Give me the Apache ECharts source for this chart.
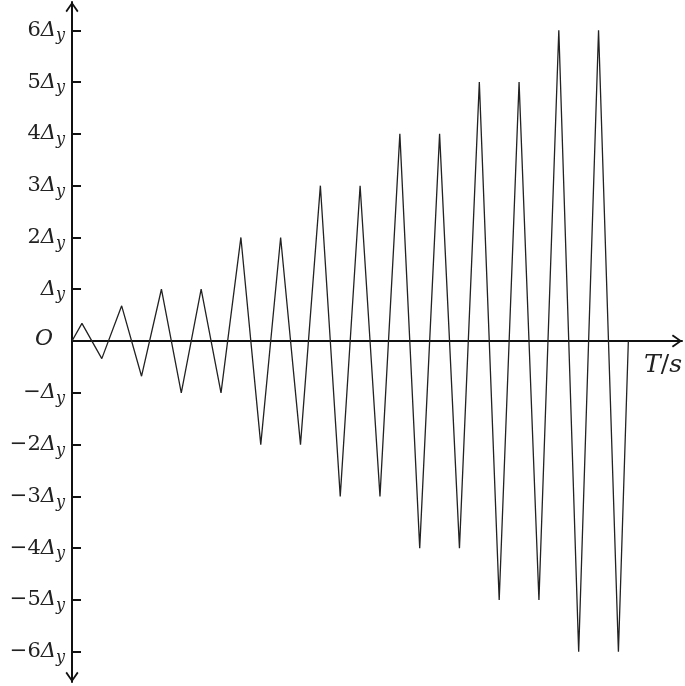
<!DOCTYPE html>
<html>
<head>
<meta charset="UTF-8">
<title>Loading protocol</title>
<script src="https://cdn.jsdelivr.net/npm/echarts@6/dist/echarts.min.js"></script>
<style>
  html, body { margin: 0; padding: 0; background: #fff; }
  #chart { width: 685px; height: 686px; }
</style>
</head>
<body>
<div id="chart"></div>
<script>
// time (quarter-cycle units) and displacement (multiples of Δy)
var times = [0, 1, 3, 5, 7, 9, 11, 13, 15, 17, 19, 21, 23, 25, 27, 29, 31,
             33, 35, 37, 39, 41, 43, 45, 47, 49, 51, 53, 55, 56];
var disp = [0, 0.34, -0.34, 0.68, -0.68, 1, -1, 1, -1, 2, -2, 2, -2, 3, -3, 3, -3,
            4, -4, 4, -4, 5, -5, 5, -5, 6, -6, 6, -6, 0];
var yTicks = [-6, -5, -4, -3, -2, -1, 1, 2, 3, 4, 5, 6];
var yLabels = [-6, -5, -4, -3, -2, -1, 0, 1, 2, 3, 4, 5, 6];

var serif = 'DejaVu Serif';
var arrow = 'path://M0,0 L6.5,9.2 L5.1,10.3 L0,3 L-5.1,10.3 L-6.5,9.2 Z';

var chart = echarts.init(document.getElementById('chart'));

chart.setOption({
  animation: false,
  backgroundColor: '#fff',
  grid: { left: 72, right: 3, top: 2, bottom: 4, containLabel: false },
  xAxis: {
    type: 'value',
    min: 0,
    max: 61.4,
    splitLine: { show: false },
    axisTick: { show: false },
    axisLabel: { show: false },
    axisLine: {
      onZero: true,
      lineStyle: { color: '#111', width: 2 },
      symbol: ['none', arrow],
      symbolSize: [13, 10.3],
      symbolOffset: [0, -5]
    },
    name: '{i|T}/{i|s}',
    nameLocation: 'end',
    nameGap: 0,
    nameTextStyle: {
      align: 'right',
      verticalAlign: 'top',
      padding: [12, 0, 0, 0],
      fontFamily: serif,
      fontSize: 25,
      color: '#222',
      rich: {
        i: { fontFamily: serif, fontStyle: 'italic', fontSize: 25, color: '#222' }
      }
    }
  },
  yAxis: {
    type: 'value',
    min: -6.585,
    max: 6.547,
    splitLine: { show: false },
    axisLine: {
      onZero: true,
      lineStyle: { color: '#111', width: 2 },
      symbol: [arrow, arrow],
      symbolSize: [13, 10.3],
      symbolOffset: [5, -5]
    },
    axisTick: {
      inside: true,
      length: 9,
      customValues: yTicks,
      lineStyle: { color: '#111', width: 2 }
    },
    axisLabel: {
      customValues: yLabels,
      margin: 7,
      fontFamily: serif,
      fontSize: 21,
      color: '#222',
      formatter: function (v) {
        if (v === 0) return '{o|O}';
        var n = Math.abs(v);
        var s = (v < 0 ? '\u2212' : '') + (n === 1 ? '' : n);
        return s + '{d|\u0394}{s|y}';
      },
      rich: {
        d: { fontFamily: serif, fontStyle: 'italic', fontSize: 21, color: '#222' },
        s: { fontFamily: serif, fontStyle: 'italic', fontSize: 16, color: '#222',
             padding: [12, 0, 0, 0] },
        o: { fontFamily: serif, fontStyle: 'italic', fontSize: 22, color: '#222',
             padding: [0, 12, 3, 0] }
      }
    }
  },
  series: [{
    type: 'line',
    data: times.map(function (t, i) { return [t, disp[i]]; }),
    showSymbol: false,
    symbol: 'none',
    lineStyle: { color: '#222', width: 1.3 },
    z: 1
  }]
});
</script>
</body>
</html>
